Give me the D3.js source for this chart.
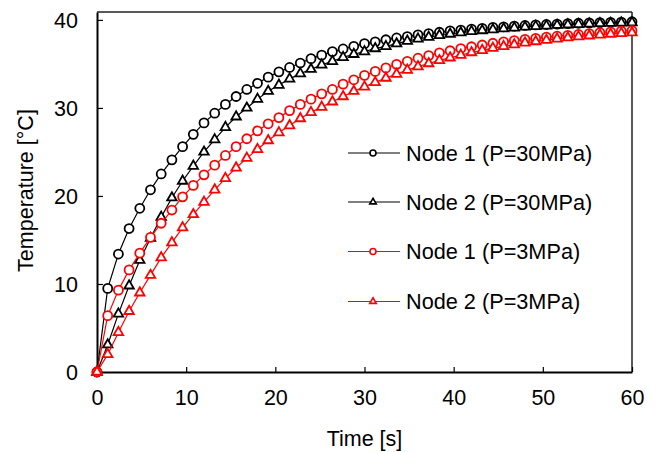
<!DOCTYPE html>
<html lang="en">
<head>
  <meta charset="UTF-8">
  <title>Temperature vs Time</title>
  <script src="https://d3js.org/d3.v7.min.js"></script>
  <style>
    body { margin: 0; background: #fff; }
    svg { display: block; font-family: "Liberation Sans", Arial, sans-serif; }
    .tick-label { font-size: 21.5px; fill: #000; }
    .axis-title { font-size: 21.5px; fill: #000; }
    .legend-text { font-size: 21.7px; fill: #000; }
  </style>
</head>
<body>
  <svg id="chart" width="656" height="452"></svg>
  <script>
    // ---- data ----
    const timeS = [0, 1.2, 2.4, 3.6, 4.8, 6, 7.2, 8.4, 9.6, 10.8, 12, 13.2, 14.4, 15.6, 16.8,
      18, 19.2, 20.4, 21.6, 22.8, 24, 25.2, 26.4, 27.6, 28.8, 30, 31.2, 32.4, 33.6, 34.8,
      36, 37.2, 38.4, 39.6, 40.8, 42, 43.2, 44.4, 45.6, 46.8, 48, 49.2, 50.4, 51.6, 52.8,
      54, 55.2, 56.4, 57.6, 58.8, 60];

    const node1P30 = [0, 9.5, 13.4, 16.3, 18.6, 20.7, 22.5, 24.1, 25.6, 27.0, 28.3, 29.4, 30.4,
      31.3, 32.1, 32.8, 33.5, 34.1, 34.6, 35.1, 35.6, 36.0, 36.4, 36.7, 37.0, 37.3, 37.5, 37.75,
      37.95, 38.1, 38.3, 38.45, 38.6, 38.75, 38.85, 38.95, 39.05, 39.15, 39.22, 39.3, 39.37,
      39.43, 39.48, 39.53, 39.58, 39.62, 39.66, 39.7, 39.73, 39.76, 39.79];

    const node2P30 = [0, 3.1, 6.6, 9.8, 12.7, 15.2, 17.6, 19.8, 21.7, 23.4, 25.0, 26.4, 27.8,
      29.0, 30.0, 31.0, 31.9, 32.6, 33.3, 33.9, 34.4, 34.9, 35.3, 35.75, 36.1, 36.4, 36.75, 37.0,
      37.3, 37.6, 37.85, 38.05, 38.25, 38.4, 38.55, 38.7, 38.8, 38.9, 39.0, 39.1, 39.2, 39.27,
      39.33, 39.4, 39.45, 39.5, 39.55, 39.6, 39.63, 39.67, 39.7];

    const node1P3 = [0, 6.4, 9.3, 11.6, 13.5, 15.3, 16.9, 18.4, 19.9, 21.2, 22.4, 23.5, 24.6,
      25.6, 26.5, 27.4, 28.2, 28.9, 29.7, 30.4, 31.0, 31.6, 32.1, 32.7, 33.2, 33.7, 34.15, 34.55,
      34.95, 35.3, 35.65, 35.95, 36.25, 36.5, 36.75, 36.95, 37.15, 37.35, 37.5, 37.65, 37.8,
      37.9, 38.05, 38.15, 38.25, 38.35, 38.45, 38.55, 38.65, 38.72, 38.8];

    const node2P3 = [0, 2.0, 4.5, 6.9, 9.0, 11.0, 13.0, 14.7, 16.4, 17.9, 19.3, 20.7, 22.0,
      23.2, 24.3, 25.3, 26.3, 27.2, 28.0, 28.8, 29.5, 30.1, 30.7, 31.3, 31.9, 32.4, 32.9, 33.4,
      33.85, 34.3, 34.7, 35.05, 35.4, 35.7, 36.0, 36.3, 36.55, 36.8, 37.0, 37.2, 37.4, 37.55,
      37.7, 37.85, 37.98, 38.1, 38.2, 38.3, 38.4, 38.48, 38.55];

    const xTicks = [0, 10, 20, 30, 40, 50, 60];
    const yTicks = [0, 10, 20, 30, 40];

    const seriesNames = ["Node 1 (P=30MPa)", "Node 2 (P=30MPa)", "Node 1 (P=3MPa)", "Node 2 (P=3MPa)"];
    const seriesValues = [node1P30, node2P30, node1P3, node2P3];
    const seriesColors = ["#000000", "#000000", "#ff0000", "#ff0000"];
    const seriesShapes = ["circle", "triangle", "circle", "triangle"];

    // ---- layout ----
    const svg = d3.select("#chart");
    const plot = { left: 97, right: 632, top: 12, bottom: 372 };

    const x = d3.scaleLinear().domain([0, 60]).range([plot.left, plot.right]);
    const y = d3.scaleLinear().domain([0, 40.9]).range([plot.bottom, plot.top]);

    // frame (top and right thin)
    svg.append("line").attr("x1", plot.left).attr("x2", plot.right)
      .attr("y1", plot.top).attr("y2", plot.top)
      .attr("stroke", "#222").attr("stroke-width", 1.5);
    svg.append("line").attr("x1", plot.right).attr("x2", plot.right)
      .attr("y1", plot.top).attr("y2", plot.bottom)
      .attr("stroke", "#222").attr("stroke-width", 1.5);

    // axes
    const xAxis = svg.append("g")
      .attr("transform", `translate(0,${plot.bottom})`)
      .call(d3.axisBottom(x).tickValues(xTicks).tickSizeInner(-5).tickSizeOuter(0));
    const yAxis = svg.append("g")
      .attr("transform", `translate(${plot.left},0)`)
      .call(d3.axisLeft(y).tickValues(yTicks).tickSizeInner(-6).tickSizeOuter(0));

    [xAxis, yAxis].forEach(ax => {
      ax.attr("font-family", null).attr("font-size", null);
      ax.select(".domain").attr("stroke", "#000").attr("stroke-width", 2);
      ax.selectAll(".tick line").attr("stroke", "#000").attr("stroke-width", 1.2);
      ax.selectAll(".tick text").attr("class", "tick-label");
    });
    xAxis.selectAll(".tick text").attr("dy", "0.71em").attr("y", 18);
    yAxis.selectAll(".tick text").attr("dy", "0.35em").attr("x", -19);

    // symbols
    const symCircle = r => d3.symbol().type(d3.symbolCircle).size(Math.PI * r * r)();
    const symTriangle = s => {
      const h = s * Math.sqrt(3) / 2;
      return `M0,${-h * 2 / 3}L${s / 2},${h / 3}L${-s / 2},${h / 3}Z`;
    };
    const markerPath = (shape, big) =>
      shape === "circle" ? symCircle(big ? 4.5 : 3) : symTriangle(big ? 9.5 : 6.5);

    const line = d3.line()
      .x((d, i) => x(timeS[i]))
      .y(d => y(d));

    seriesValues.forEach((vals, k) => {
      const g = svg.append("g");
      g.append("path")
        .datum(vals)
        .attr("fill", "none")
        .attr("stroke", seriesColors[k])
        .attr("stroke-width", 1.2)
        .attr("d", line);
      g.selectAll("path.mk")
        .data(vals)
        .enter()
        .append("path")
        .attr("class", "mk")
        .attr("d", markerPath(seriesShapes[k], true))
        .attr("transform", (d, i) => `translate(${x(timeS[i])},${y(d)})`)
        .attr("fill", "#fff")
        .attr("stroke", seriesColors[k])
        .attr("stroke-width", 1.8);
    });

    // legend
    const legendRows = [153, 202, 251.5, 301.5];
    const legend = svg.append("g");
    seriesNames.forEach((name, k) => {
      const ly = legendRows[k];
      legend.append("line")
        .attr("x1", 348).attr("x2", 400)
        .attr("y1", ly).attr("y2", ly)
        .attr("stroke", seriesColors[k]).attr("stroke-width", 1.2);
      legend.append("path")
        .attr("d", markerPath(seriesShapes[k], false))
        .attr("transform", `translate(373,${ly})`)
        .attr("fill", "#fff")
        .attr("stroke", seriesColors[k])
        .attr("stroke-width", 1.6);
      legend.append("text")
        .attr("class", "legend-text")
        .attr("x", 406)
        .attr("y", ly)
        .attr("dy", "0.35em")
        .text(name);
    });

    // axis titles
    svg.append("text")
      .attr("class", "axis-title")
      .attr("x", (plot.left + plot.right) / 2)
      .attr("y", 446)
      .attr("text-anchor", "middle")
      .text("Time [s]");
    svg.append("text")
      .attr("class", "axis-title")
      .attr("transform", "translate(33,190.5) rotate(-90)")
      .attr("text-anchor", "middle")
      .text("Temperature [°C]");
  </script>
</body>
</html>
